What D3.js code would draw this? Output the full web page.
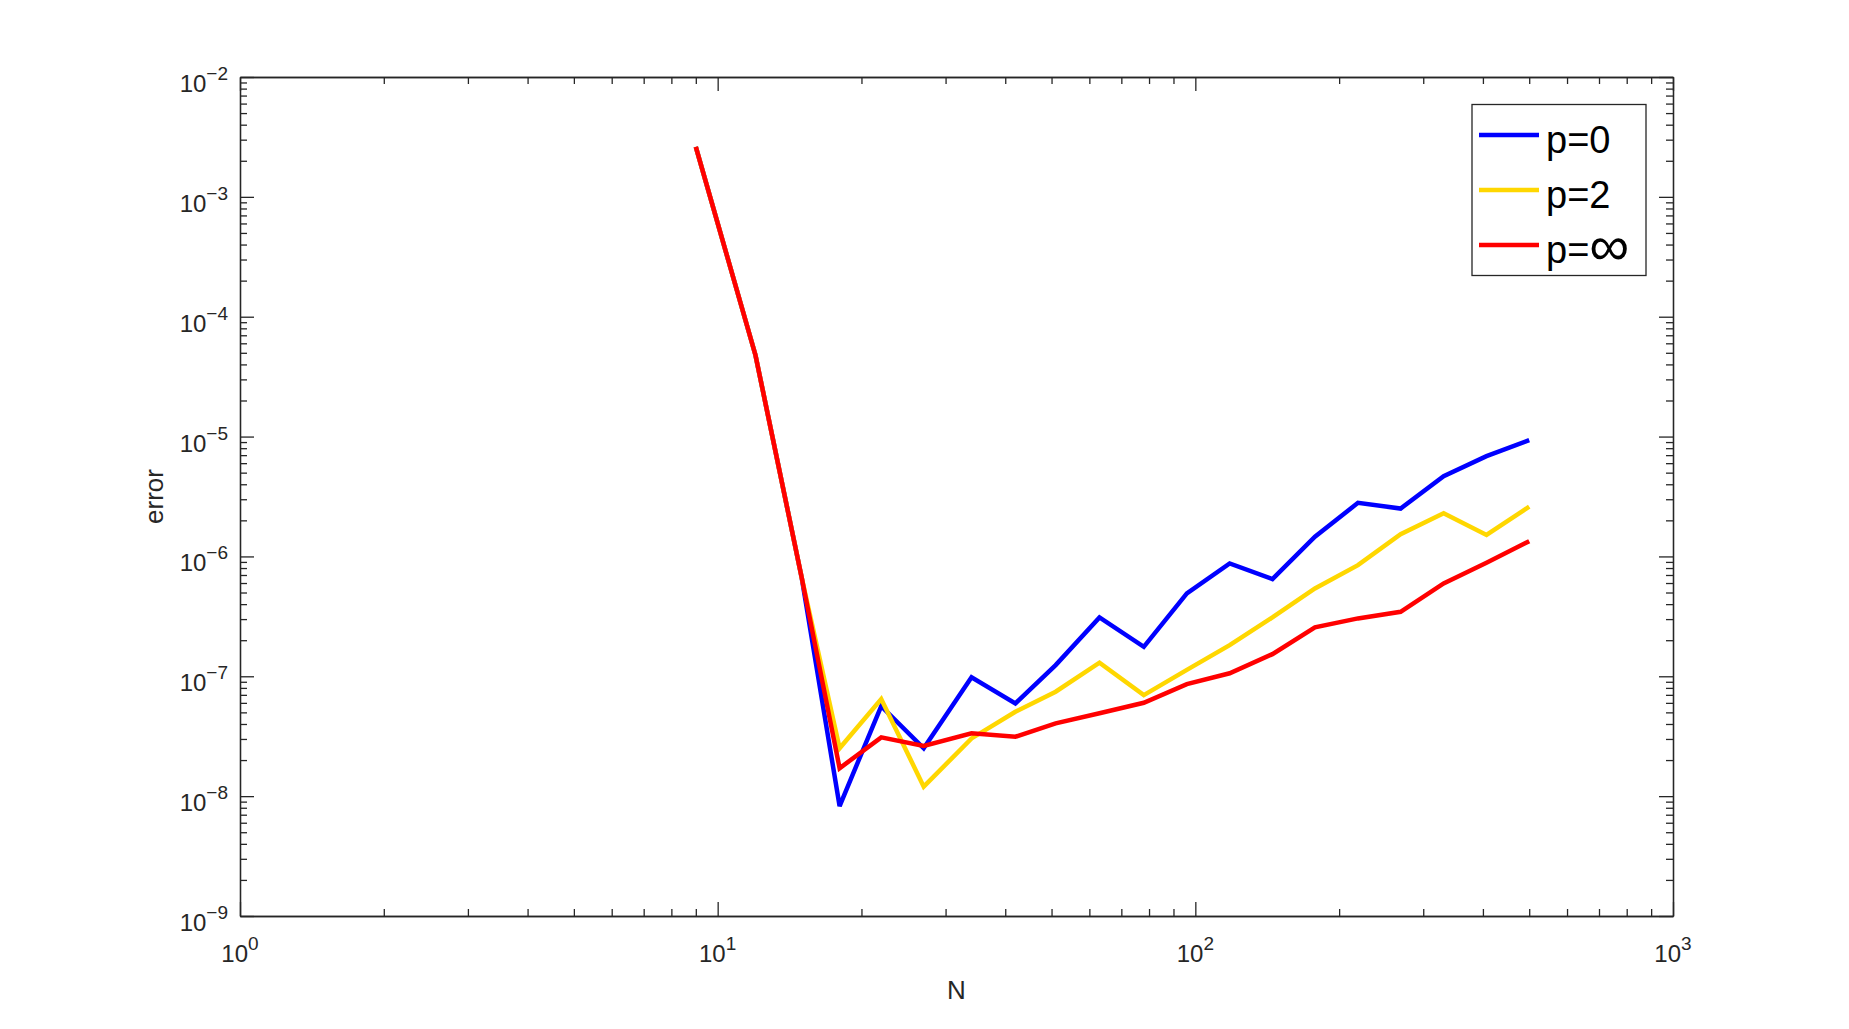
<!DOCTYPE html>
<html>
<head>
<meta charset="utf-8">
<script src="https://cdn.jsdelivr.net/npm/d3@7"></script>
<style>
  html, body { margin: 0; padding: 0; background: #fff; }
  svg { display: block; font-family: "Liberation Sans", Arial, sans-serif; }
</style>
</head>
<body>
<svg id="chart" width="1849" height="1029"></svg>
<script>
// ---- data ----
const N = [9, 12, 15, 18, 22, 27, 34, 42, 51, 63, 78, 96, 118, 145, 178, 219, 269, 331, 407, 500];
const errP0 = [2.61e-3, 4.77e-5, 6.6e-7, 8.26e-9, 5.64e-8, 2.51e-8, 9.8e-8, 5.94e-8, 1.24e-7, 3.1e-7, 1.76e-7, 4.91e-7, 8.74e-7, 6.47e-7, 1.46e-6, 2.8e-6, 2.51e-6, 4.67e-6, 6.86e-6, 9.33e-6];
const errP2 = [2.61e-3, 4.77e-5, 6.6e-7, 2.51e-8, 6.46e-8, 1.2e-8, 3.03e-8, 5.06e-8, 7.43e-8, 1.3e-7, 6.97e-8, 1.13e-7, 1.82e-7, 3.1e-7, 5.41e-7, 8.45e-7, 1.53e-6, 2.29e-6, 1.51e-6, 2.6e-6];
const errPinf = [2.61e-3, 4.77e-5, 6.6e-7, 1.71e-8, 3.09e-8, 2.62e-8, 3.34e-8, 3.13e-8, 4.05e-8, 4.91e-8, 6.01e-8, 8.61e-8, 1.06e-7, 1.53e-7, 2.56e-7, 3.04e-7, 3.45e-7, 5.96e-7, 8.85e-7, 1.34e-6];
const seriesPrefix = ["p=", "p=", "p="];
const seriesSuffix = ["0", "2", "\u221E"];
const seriesColors = ["#0000ff", "#ffd700", "#ff0000"];
const xTickExps = ["0", "1", "2", "3"];
const yTickExps = ["\u22129", "\u22128", "\u22127", "\u22126", "\u22125", "\u22124", "\u22123", "\u22122"];
const xLabel = "N";
const yLabel = "error";

// ---- layout ----
const L = 240, R = 1673, T = 77, B = 916;
const axisColor = "#262626";
const svg = d3.select("#chart");

const x = d3.scaleLog().domain([1, 1000]).range([L, R]);
const y = d3.scaleLog().domain([1e-9, 1e-2]).range([B, T]);

const xMajor = [1, 10, 100, 1000];
const yMajor = d3.range(-9, -1).map(e => Math.pow(10, e));
const xMinor = [];
[1, 10, 100].forEach(d => { for (let k = 2; k <= 9; k++) xMinor.push(d * k); });
const yMinor = [];
yMajor.slice(0, -1).forEach(d => { for (let k = 2; k <= 9; k++) yMinor.push(d * k); });

const majorLen = 14, minorLen = 7;

function styleAxis(g) {
  g.selectAll("path.domain").attr("stroke", axisColor).attr("stroke-width", 1.3);
  g.selectAll(".tick line").attr("stroke", axisColor).attr("stroke-width", 1.3);
  g.selectAll(".tick text").remove();
}

// bottom
svg.append("g").attr("transform", `translate(0,${B})`)
  .call(d3.axisBottom(x).tickValues(xMajor).tickSizeInner(-majorLen).tickSizeOuter(0).tickFormat(""))
  .call(styleAxis);
svg.append("g").attr("transform", `translate(0,${B})`)
  .call(d3.axisBottom(x).tickValues(xMinor).tickSizeInner(-minorLen).tickSizeOuter(0).tickFormat(""))
  .call(styleAxis);
// top
svg.append("g").attr("transform", `translate(0,${T})`)
  .call(d3.axisTop(x).tickValues(xMajor).tickSizeInner(-majorLen).tickSizeOuter(0).tickFormat(""))
  .call(styleAxis);
svg.append("g").attr("transform", `translate(0,${T})`)
  .call(d3.axisTop(x).tickValues(xMinor).tickSizeInner(-minorLen).tickSizeOuter(0).tickFormat(""))
  .call(styleAxis);
// left
svg.append("g").attr("transform", `translate(${L},0)`)
  .call(d3.axisLeft(y).tickValues(yMajor).tickSizeInner(-majorLen).tickSizeOuter(0).tickFormat(""))
  .call(styleAxis);
svg.append("g").attr("transform", `translate(${L},0)`)
  .call(d3.axisLeft(y).tickValues(yMinor).tickSizeInner(-minorLen).tickSizeOuter(0).tickFormat(""))
  .call(styleAxis);
// right
svg.append("g").attr("transform", `translate(${R},0)`)
  .call(d3.axisRight(y).tickValues(yMajor).tickSizeInner(-majorLen).tickSizeOuter(0).tickFormat(""))
  .call(styleAxis);
svg.append("g").attr("transform", `translate(${R},0)`)
  .call(d3.axisRight(y).tickValues(yMinor).tickSizeInner(-minorLen).tickSizeOuter(0).tickFormat(""))
  .call(styleAxis);

// tick labels
const baseSize = 24, supSize = 19, supDy = -12;
xMajor.forEach((v, i) => {
  const t = svg.append("text")
    .attr("x", x(v)).attr("y", B + 46)
    .attr("text-anchor", "middle")
    .attr("fill", axisColor)
    .attr("font-size", baseSize);
  t.append("tspan").text("10");
  t.append("tspan").attr("dy", supDy).attr("font-size", supSize).text(xTickExps[i]);
});
yMajor.forEach((v, i) => {
  const t = svg.append("text")
    .attr("x", L - 12).attr("y", y(v) + 15)
    .attr("text-anchor", "end")
    .attr("fill", axisColor)
    .attr("font-size", baseSize);
  t.append("tspan").text("10");
  t.append("tspan").attr("dy", supDy).attr("font-size", supSize).text(yTickExps[i]);
});

// axis labels
svg.append("text")
  .attr("x", (L + R) / 2).attr("y", 999)
  .attr("text-anchor", "middle")
  .attr("fill", axisColor)
  .attr("font-size", 26)
  .text(xLabel);
svg.append("text")
  .attr("transform", `translate(163,${(T + B) / 2}) rotate(-90)`)
  .attr("text-anchor", "middle")
  .attr("fill", axisColor)
  .attr("font-size", 26)
  .text(yLabel);

// lines
const allSeries = [errP0, errP2, errPinf];
const line = d3.line().x(d => x(d[0])).y(d => y(d[1]));
allSeries.forEach((vals, si) => {
  svg.append("path")
    .datum(N.map((n, i) => [n, vals[i]]))
    .attr("d", line)
    .attr("fill", "none")
    .attr("stroke", seriesColors[si])
    .attr("stroke-width", 4.5)
    .attr("stroke-linejoin", "miter")
    .attr("stroke-miterlimit", 3);
});

// legend
const lg = svg.append("g");
lg.append("rect")
  .attr("x", 1472).attr("y", 104.5)
  .attr("width", 174).attr("height", 171)
  .attr("fill", "#fff")
  .attr("stroke", axisColor).attr("stroke-width", 1.3);
seriesColors.forEach((c, i) => {
  const ly = 135 + i * 55;
  lg.append("line")
    .attr("x1", 1479).attr("x2", 1539)
    .attr("y1", ly).attr("y2", ly)
    .attr("stroke", c).attr("stroke-width", 4.5);
  const t = lg.append("text")
    .attr("x", 1546).attr("y", ly + 17.5)
    .attr("font-size", 38)
    .attr("fill", "#000");
  t.append("tspan").text(seriesPrefix[i]);
  if (i === 2) {
    t.append("tspan").attr("font-size", 56).attr("dy", 2).text(seriesSuffix[i]);
  } else {
    t.append("tspan").text(seriesSuffix[i]);
  }
});
</script>
</body>
</html>
